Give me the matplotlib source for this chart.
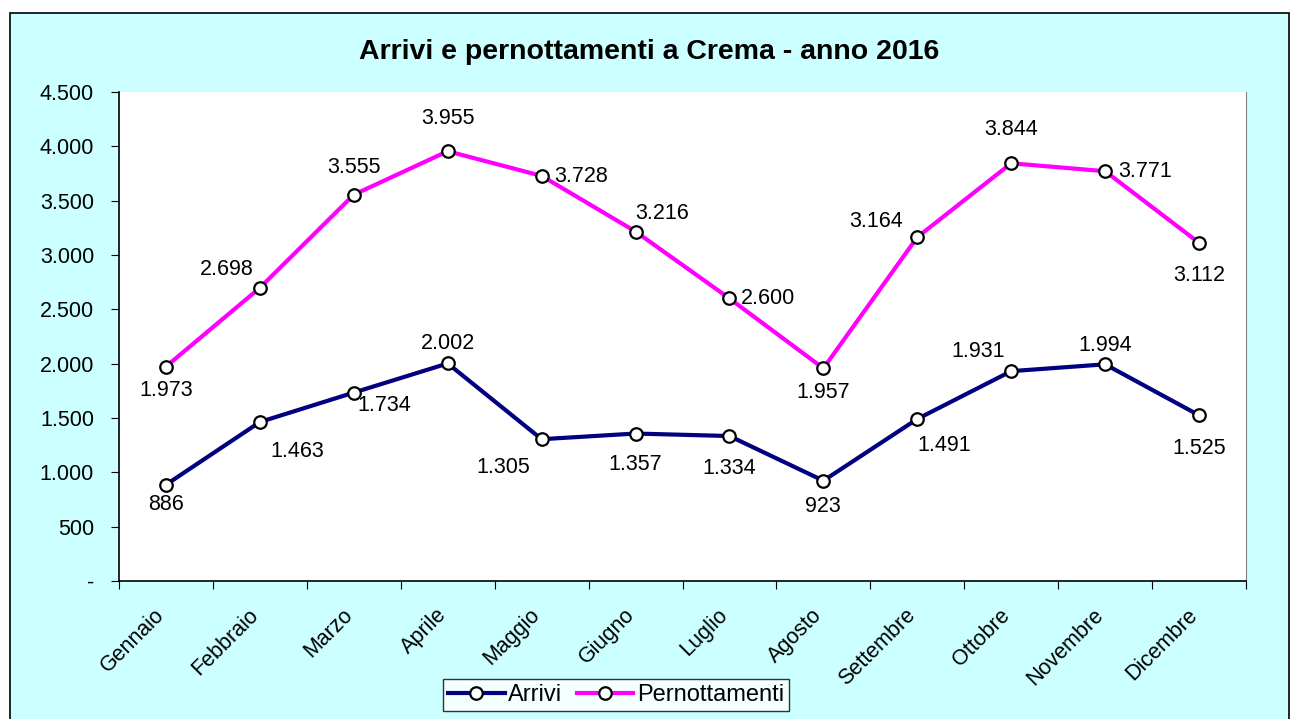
import matplotlib
matplotlib.use("Agg")
import matplotlib.pyplot as plt
import matplotlib.transforms as mtransforms
from matplotlib.patches import Rectangle
from matplotlib.ticker import FuncFormatter, MultipleLocator

plt.rcParams['font.family'] = ['Liberation Sans', 'DejaVu Sans']

mesi = ["Gennaio", "Febbraio", "Marzo", "Aprile", "Maggio", "Giugno",
        "Luglio", "Agosto", "Settembre", "Ottobre", "Novembre", "Dicembre"]
arrivi = [886, 1463, 1734, 2002, 1305, 1357, 1334, 923, 1491, 1931, 1994, 1525]
pernottamenti = [1973, 2698, 3555, 3955, 3728, 3216, 2600, 1957, 3164, 3844, 3771, 3112]

# posizione delle etichette (offset in pixel rispetto al punto)
off_arrivi = [(0, -20), (37, -29), (30, -13), (0, 20), (-38, -28), (0, -31),
              (0, -32), (0, -26), (27, -27), (-33, 20), (0, 19), (0, -33)]
off_pern = [(0, -24), (-33, 18), (0, 27), (0, 33), (39, -1), (27, 18),
            (39, 0), (0, -24), (-41, 16), (0, 34), (40, 0), (0, -33)]

def fmt_it(v, pos=None):
    if v == 0:
        return "-"
    return f"{int(round(v)):,}".replace(",", ".")

W, H = 1291, 719
fig = plt.figure(figsize=(W / 100, H / 100), dpi=100)
fig.patch.set_facecolor("white")
sfondo = Rectangle((10 / W, -0.01), 1279 / W, 1 - 13 / H + 0.01,
                   transform=fig.transFigure, facecolor="#CCFFFF",
                   edgecolor="black", linewidth=1.2, zorder=-5)
fig.add_artist(sfondo)

ax = fig.add_axes([119 / W, 1 - 581 / H, (1246 - 119) / W, (581 - 92) / H])
ax.set_zorder(2)
ax.set_facecolor("white")

x = list(range(len(mesi)))
ax.plot(x, arrivi, color="#000080", lw=3, marker="o", ms=9,
        mfc="white", mec="black", mew=1.6, label="Arrivi", zorder=3)
ax.plot(x, pernottamenti, color="#FF00FF", lw=3, marker="o", ms=9,
        mfc="white", mec="black", mew=1.6, label="Pernottamenti", zorder=3)

fs = 15.5
for xi, v, o in zip(x, arrivi, off_arrivi):
    ax.annotate(fmt_it(v), (xi, v), xytext=o, textcoords="offset pixels",
                ha="center", va="center", fontsize=fs)
for xi, v, o in zip(x, pernottamenti, off_pern):
    ax.annotate(fmt_it(v), (xi, v), xytext=o, textcoords="offset pixels",
                ha="center", va="center", fontsize=fs)

ax.set_xlim(-0.5, len(mesi) - 0.5)
ax.set_ylim(0, 4500)
ax.yaxis.set_major_locator(MultipleLocator(500))
ax.yaxis.set_major_formatter(FuncFormatter(fmt_it))
ax.set_xticks([i - 0.5 for i in range(len(mesi) + 1)])
ax.set_xticklabels([])
ax.set_xticks(x, minor=True)
ax.set_xticklabels(mesi, minor=True, rotation=45, ha="right",
                   rotation_mode="anchor", fontsize=fs)
ax.tick_params(axis="x", which="minor", length=0, pad=17)
ax.tick_params(axis="x", which="major", length=6, direction="out")
ax.tick_params(axis="y", length=6, direction="out", labelsize=fs, pad=12)
sposta = mtransforms.ScaledTranslation(-12 / 100, 0, fig.dpi_scale_trans)
for lab in ax.get_xticklabels(minor=True):
    lab.set_transform(lab.get_transform() + sposta)
ax.spines["top"].set_visible(False)
ax.spines["right"].set_color("#808080")
ax.spines["left"].set_linewidth(1.2)
ax.spines["bottom"].set_linewidth(1.2)

fig.text(0.5 * (10 + 1289) / W, 1 - 52 / H, "Arrivi e pernottamenti a Crema - anno 2016",
         ha="center", va="center", fontsize=20.5, fontweight="bold")

leg = fig.legend(loc="center", bbox_to_anchor=(616 / W, 1 - 695 / H), ncol=2,
                 frameon=True, fancybox=False, fontsize=17, handlelength=2.4,
                 handletextpad=0.15, columnspacing=0.6, borderpad=0.2)
leg.get_frame().set_edgecolor("black")
leg.get_frame().set_linewidth(1.0)
leg.set_zorder(3)

fig.savefig("out.png", dpi=100)
